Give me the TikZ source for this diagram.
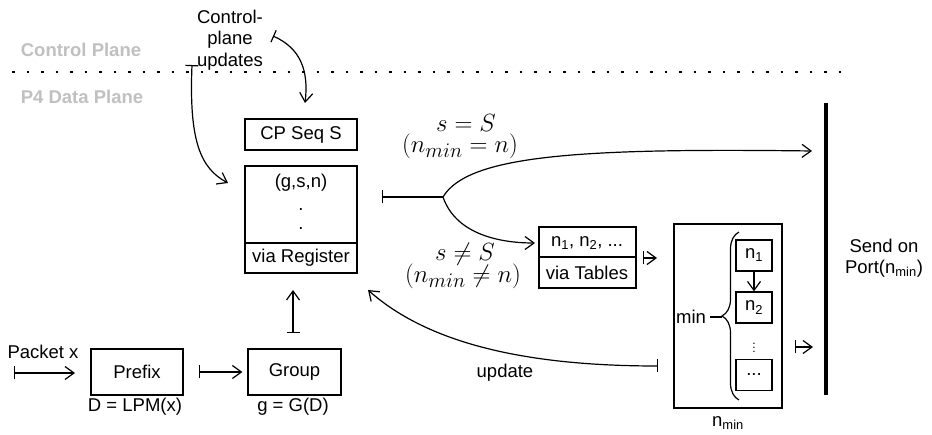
\documentclass[tikz,border=0pt]{standalone}
\usepackage[no-math]{fontspec}
\setmainfont{Liberation Sans}
\usetikzlibrary{arrows.meta,decorations.pathreplacing}
\definecolor{planegray}{RGB}{192,192,192}
\newcommand\myfs{\fontsize{18.5}{21.5}\selectfont}
\newcommand\mathfs{\fontsize{24.88}{28}\selectfont}
\begin{document}
\begin{tikzpicture}[x=1pt,y=-1pt,
  lw/.style={line width=1.2pt},
  box/.style={draw,lw,inner sep=0pt,font=\myfs,anchor=center},
  nbox/.style={box,minimum width=36pt,minimum height=31pt},
  arr/.style={lw,-{Straight Barb[length=9pt,width=13pt]}},
  barr/.style={lw,{Bar[width=13pt]}-{Straight Barb[length=9pt,width=13pt]}},
  bline/.style={lw,{Bar[width=13pt]}-},
  txt/.style={font=\myfs,inner sep=0pt},
  mlab/.style={font=\mathfs,inner sep=0pt},
  plane/.style={font=\myfs\bfseries,text=planegray,inner sep=0pt}]
\useasboundingbox (0,0) rectangle (932,435);

% plane labels and separator
\node[plane] (cpl) at (81,50) {Control Plane};
\node[plane] (dpl) at (82,97) {P4 Data Plane};
\draw[line width=2.5pt,dash pattern=on 2.5pt off 12pt] (12,72) -- (845,72);

% control plane updates
\node[txt,align=center] (cpu) at (230,40) {Control-\\plane\\updates};

% register side
\node[box,minimum width=112pt,minimum height=31pt] (cp) at (301,134.5) {CP Seq S};
\node[box,minimum width=112pt,minimum height=107pt] (reg) at (301,219.5) {};
\draw[lw] (245,243) -- (357,243);
\node[txt] (gsn) at (301,183) {(g,s,n)};
\node[txt,anchor=base] (d1) at (301,211) {.};
\node[txt,anchor=base] (d2) at (301,230) {.};
\node[txt] (vr) at (301,258) {via Register};

\coordinate (c1s) at (273,36); \coordinate (c1e) at (305,103);
\draw[barr] (c1s) .. controls (300,48) and (309,70) .. (c1e);
\coordinate (c2s) at (192,65); \coordinate (c2e) at (228,183);
\draw[barr] (c2s) .. controls (189,140) and (200,168) .. (c2e);

% packet path
\node[txt] (pk) at (43,352) {Packet x};
\node[box,minimum width=92pt,minimum height=46pt] (prefix) at (137,372) {Prefix};
\node[box,minimum width=93pt,minimum height=46pt] (group) at (294.5,372) {Group};
\node[txt] (lpm) at (135,407) {D = LPM(x)};
\node[txt] (gd) at (293,407) {g = G(D)};
\coordinate (pks) at (14,373); \coordinate (pke) at (75,373);
\draw[barr] (pks) -- (pke);
\draw[barr] ([xshift=15pt]prefix.east) -- ([xshift=-5pt]group.west);
\coordinate (gu1) at (293,333); \coordinate (gu2) at (293,290);
\draw[barr] (gu1) -- (gu2);

% branch
\coordinate (rb) at (382,197); \coordinate (br) at (443,197);
\coordinate (pt1) at (812,151); \coordinate (tabin) at (535,243);
\draw[bline] (rb) -- (br);
\draw[arr] (br) .. controls (468,155) and (580,148) .. (pt1);
\draw[arr] (br) .. controls (455,232) and (495,243) .. (tabin);
\node[mlab] (l1) at (466,123) {$s=S$};
\node[mlab] (l2) at (460,146) {$(n_{min}=n)$};
\node[mlab] (l3) at (465,254) {$s\neq S$};
\node[mlab] (l4) at (463,276) {$(n_{min}\neq n)$};

% tables
\node[box,minimum width=97pt,minimum height=61pt] (tab) at (587.5,257.5) {};
\draw[lw] (539,257) -- (636,257);
\node[txt] (tl1) at (587,243) {n\textsubscript{1}, n\textsubscript{2}, ...};
\node[txt] (tl2) at (587,273) {via Tables};
\coordinate (ta1) at (643,258); \coordinate (ta2) at (657,258);
\draw[barr] (ta1) -- (ta2);

% min box
\node[box,minimum width=108pt,minimum height=184pt] (big) at (728,316) {};
\node[txt] (nmin) at (728,423) {n\textsubscript{min}};
\node[nbox] (n1) at (754,255.5) {n\textsubscript{1}};
\node[nbox] (n2) at (754,307.5) {n\textsubscript{2}};
\node[nbox] (n3) at (754,375) {...};
\draw[arr] (n1) -- (n2);
\node[inner sep=0pt] (vd) at (754,345) {\fontsize{12}{12}\selectfont$\vdots$};
\draw[lw,decorate,decoration={brace,amplitude=17pt}] (739,400) -- (739,232);
\node[txt] (minl) at (691,317) {min};
\draw[lw] ([xshift=4pt]minl.east) -- (722,317);
\coordinate (ma1) at (795,347); \coordinate (ma2) at (813,347);
\draw[barr] (ma1) -- (ma2);

% update
\coordinate (ub) at (658,366); \coordinate (ue) at (368,290);
\draw[barr] (ub) .. controls (530,366) and (430,345) .. (ue);
\node[txt] (upd) at (505,373) {update};

% port
\coordinate (ptop) at (826,103); \coordinate (pbot) at (826,395);
\draw[line width=4pt] (ptop) -- (pbot);
\node[txt,align=center] (send) at (884,258) {Send on\\Port(n\textsubscript{min})};
\end{tikzpicture}
\end{document}
